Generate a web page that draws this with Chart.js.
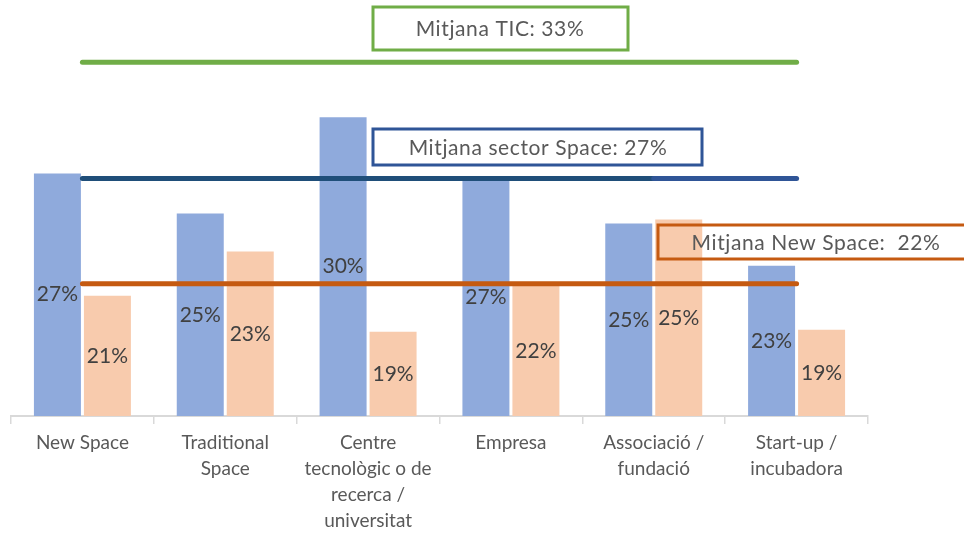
<!DOCTYPE html>
<html>
<head>
<meta charset="utf-8">
<script src="https://cdn.jsdelivr.net/npm/chart.js@4"></script>
<style>
  html, body { margin: 0; padding: 0; background: #fff; }
  .chart-wrap { width: 964px; height: 533px; position: relative; }
</style>
</head>
<body>
<div class="chart-wrap"><canvas id="avgChart"></canvas></div>
<script>
const categories = [
    ['New Space'],
    ['Traditional', 'Space'],
    ['Centre', 'tecnològic o de', 'recerca /', 'universitat'],
    ['Empresa'],
    ['Associació /', 'fundació'],
    ['Start-up /', 'incubadora']
];
// barres (blau = sector Space, taronja = New Space)
const sectorValues = [27.1, 25.1, 29.9, 26.8, 24.6, 22.5];
const newSpaceValues = [21.0, 23.2, 19.2, 21.5, 24.8, 19.3];
const sectorLabels = ['27%', '25%', '30%', '27%', '25%', '23%'];
const newSpaceLabels = ['21%', '23%', '19%', '22%', '25%', '19%'];
// línies de mitjana
const ticMean = [32.65, 32.65, 32.65, 32.65, 32.65, 32.65];
const sectorMean = [26.85, 26.85, 26.85, 26.85, 26.85, 26.85];
const newSpaceMean = [21.6, 21.6, 21.6, 21.6, 21.6, 21.6];
const boxTexts = ['Mitjana TIC: 33%', 'Mitjana sector Space: 27%', 'Mitjana New Space:  22%'];

const FONT = 'Lato, "Open Sans", sans-serif';

const barLabelsPlugin = {
    id: 'barLabels',
    afterDatasetsDraw(chart) {
        const ctx = chart.ctx;
        const bottom = chart.scales.y.bottom;
        const labelSets = [sectorLabels, newSpaceLabels];
        ctx.save();
        ctx.font = '21px ' + FONT;
        ctx.fillStyle = '#404040';
        ctx.textAlign = 'center';
        ctx.textBaseline = 'middle';
        labelSets.forEach((labels, di) => {
            const meta = chart.getDatasetMeta(di);
            meta.data.forEach((bar, i) => {
                ctx.fillText(labels[i], bar.x, (bar.y + Math.min(bar.base, bottom)) / 2);
            });
        });
        ctx.restore();
    }
};

const boxesPlugin = {
    id: 'meanBoxes',
    afterDraw(chart) {
        const ctx = chart.ctx;
        const boxes = [
            { x: 373, y: 7, w: 255, h: 43, color: '#70ad47', text: boxTexts[0], cx: 500 },
            { x: 373, y: 129, w: 329, h: 36, color: '#2f5597', text: boxTexts[1], cx: 538 },
            { x: 658, y: 225, w: 320, h: 34, color: '#c55a11', text: boxTexts[2], cx: 816 }
        ];
        ctx.save();
        ctx.font = '21px ' + FONT;
        ctx.letterSpacing = '0.6px';
        ctx.textAlign = 'center';
        ctx.textBaseline = 'middle';
        boxes.forEach(b => {
            ctx.lineWidth = 3;
            ctx.strokeStyle = b.color;
            ctx.strokeRect(b.x, b.y, b.w, b.h);
            ctx.fillStyle = '#595959';
            ctx.fillText(b.text, b.cx, b.y + b.h / 2 + 1);
        });
        ctx.restore();
    }
};

const ctx = document.getElementById('avgChart').getContext('2d');
new Chart(ctx, {
    type: 'bar',
    data: {
        labels: categories,
        datasets: [
            {
                label: 'Sector Space',
                data: sectorValues,
                backgroundColor: '#8faadc',
                categoryPercentage: 0.7,
                barPercentage: 0.94,
                order: 2
            },
            {
                label: 'New Space',
                data: newSpaceValues,
                backgroundColor: '#f8cbad',
                categoryPercentage: 0.7,
                barPercentage: 0.94,
                order: 2
            },
            {
                type: 'line',
                label: 'Mitjana TIC',
                data: ticMean,
                borderColor: '#70ad47',
                borderWidth: 5,
                borderCapStyle: 'round',
                pointRadius: 0,
                order: 1
            },
            {
                type: 'line',
                label: 'Mitjana sector Space',
                data: sectorMean,
                borderColor: '#1f4e79',
                borderWidth: 5,
                borderCapStyle: 'round',
                pointRadius: 0,
                segment: {
                    borderColor: c => c.p0DataIndex >= 4 ? '#2f5597' : '#1f4e79'
                },
                order: 1
            },
            {
                type: 'line',
                label: 'Mitjana New Space',
                data: newSpaceMean,
                borderColor: '#c55a11',
                borderWidth: 5,
                borderCapStyle: 'round',
                pointRadius: 0,
                order: 1
            }
        ]
    },
    options: {
        responsive: true,
        maintainAspectRatio: false,
        animation: false,
        layout: {
            padding: { left: 11, right: 96, top: 0, bottom: -7 }
        },
        scales: {
            x: {
                grid: {
                    drawOnChartArea: false,
                    drawTicks: true,
                    tickLength: 8,
                    color: '#d9d9d9',
                    lineWidth: 1.5
                },
                border: {
                    color: '#d9d9d9',
                    width: 2
                },
                ticks: {
                    color: '#595959',
                    font: { family: FONT, size: 19, lineHeight: '26px' },
                    padding: 6,
                    maxRotation: 0,
                    autoSkip: false
                }
            },
            y: {
                display: false,
                min: 15,
                max: 35.75
            }
        },
        plugins: {
            legend: { display: false },
            tooltip: { enabled: false }
        }
    },
    plugins: [barLabelsPlugin, boxesPlugin]
});
</script>
</body>
</html>
